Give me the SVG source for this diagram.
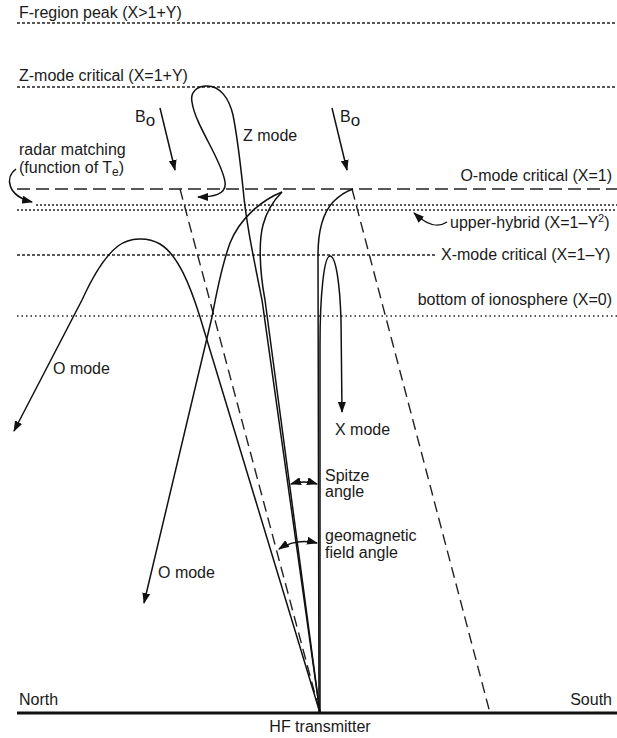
<svg xmlns="http://www.w3.org/2000/svg" width="617" height="738" viewBox="0 0 617 738">
<style>
text{font-family:"Liberation Sans",Arial,Helvetica,sans-serif;font-size:16px;fill:#1a1a1a}
.ray{fill:none;stroke:#111;stroke-width:1.5}
.lvl{fill:none;stroke:#222;stroke-width:1.3}
.dots{stroke-dasharray:3 2}
.fine{stroke-dasharray:2 2}
.dot{stroke-dasharray:1.5 3}
.ocrit{stroke-dasharray:13 6}
.bfield{fill:none;stroke:#222;stroke-width:1.4;stroke-dasharray:11 6}
</style>
<defs>
<marker id="ah" markerUnits="userSpaceOnUse" markerWidth="11" markerHeight="8" refX="10" refY="4" orient="auto-start-reverse">
<path d="M0,0 L11,4 L0,8 z" fill="#111"/>
</marker>
</defs>
<rect width="617" height="738" fill="#fff"/>

<g id="levels">
<line class="lvl dots" x1="17" y1="23" x2="617" y2="23"/>
<text x="19" y="18">F-region peak (X&gt;1+Y)</text>
<line class="lvl dots" x1="17" y1="87" x2="617" y2="87"/>
<text x="19" y="81">Z-mode critical (X=1+Y)</text>
<line class="lvl ocrit" x1="17" y1="189" x2="617" y2="189"/>
<text x="612" y="181" text-anchor="end">O-mode critical (X=1)</text>
<line class="lvl fine" x1="36" y1="205" x2="617" y2="205"/>
<line class="lvl fine" x1="17" y1="210" x2="617" y2="210"/>
<text x="450" y="228">upper-hybrid (X=1–Y<tspan font-size="11" dy="-6">2</tspan><tspan dy="6">)</tspan></text>
<line class="lvl dots" x1="17" y1="255" x2="437" y2="255"/>
<text x="441" y="260">X-mode critical (X=1–Y)</text>
<line class="lvl dot" x1="17" y1="316" x2="617" y2="316"/>
<text x="612" y="305" text-anchor="end">bottom of ionosphere (X=0)</text>
</g>

<g id="ground">
<line x1="17" y1="713" x2="617" y2="713" stroke="#111" stroke-width="3"/>
<text x="19" y="705">North</text>
<text x="612" y="705" text-anchor="end">South</text>
<text x="320" y="732" text-anchor="middle">HF transmitter</text>
</g>

<g id="bfield">
<line class="ray" x1="160" y1="108" x2="175" y2="170" marker-end="url(#ah)"/>
<line class="bfield" x1="180" y1="189" x2="320" y2="713"/>
<text x="135" y="122" font-size="21">B<tspan font-size="17" dy="4">o</tspan></text>
<line class="ray" x1="332" y1="108" x2="347" y2="170" marker-end="url(#ah)"/>
<line class="bfield" x1="352" y1="189" x2="490" y2="713"/>
<text x="340" y="122" font-size="21">B<tspan font-size="17" dy="4">o</tspan></text>
</g>

<g id="rays">
<path class="ray" d="M320,713 L200,317 C190,285 178,255 160,244 C148,237 130,237 118,246 C105,256 92,278 82,300 L14,431" marker-end="url(#ah)"/>
<path class="ray" d="M320,713 L262,300 C253,255 246,222 243,188 C240,160 237,135 233,115 C229,98 220,86 207,86 C197,86 190,92 192,102 C195,125 222,160 225,182 C227,195 212,197 198,197" marker-end="url(#ah)"/>
<path class="ray" d="M320,713 L265,300 C259,268 259,240 263,225 C267,210 274,200 282,192"/>
<path class="ray" d="M282,192 C262,200 240,218 230,243 C223,262 217,290 212,317 L144,603" marker-end="url(#ah)"/>
<path class="ray" d="M319,713 L318,255 C318,232 322,214 333,202 C340,195 347,191 353,189"/>
<path class="ray" d="M320,713 L320,345 C320,295 324,256 330,256 C336,256 340,285 341,320 L342,412" marker-end="url(#ah)"/>
</g>

<g id="annotations">
<text x="19" y="155">radar matching</text>
<text x="19" y="173">(function of T<tspan font-size="12" dy="3">e</tspan><tspan dy="-3">)</tspan></text>
<path class="ray" d="M16,169 C4,178 8,196 32,202" marker-end="url(#ah)"/>
<path class="ray" d="M447,222 C438,228 428,226 414,213" marker-end="url(#ah)"/>
<text x="243" y="141">Z mode</text>
<text x="53" y="374">O mode</text>
<text x="158" y="578">O mode</text>
<text x="335" y="435">X mode</text>
<text x="325" y="481">Spitze</text>
<text x="325" y="497">angle</text>
<path class="ray" d="M291,484 Q304,480 317,484" marker-start="url(#ah)" marker-end="url(#ah)"/>
<text x="325" y="541">geomagnetic</text>
<text x="325" y="558">field angle</text>
<path class="ray" d="M279,549 Q296,538 317,543" marker-start="url(#ah)" marker-end="url(#ah)"/>
</g>
</svg>
